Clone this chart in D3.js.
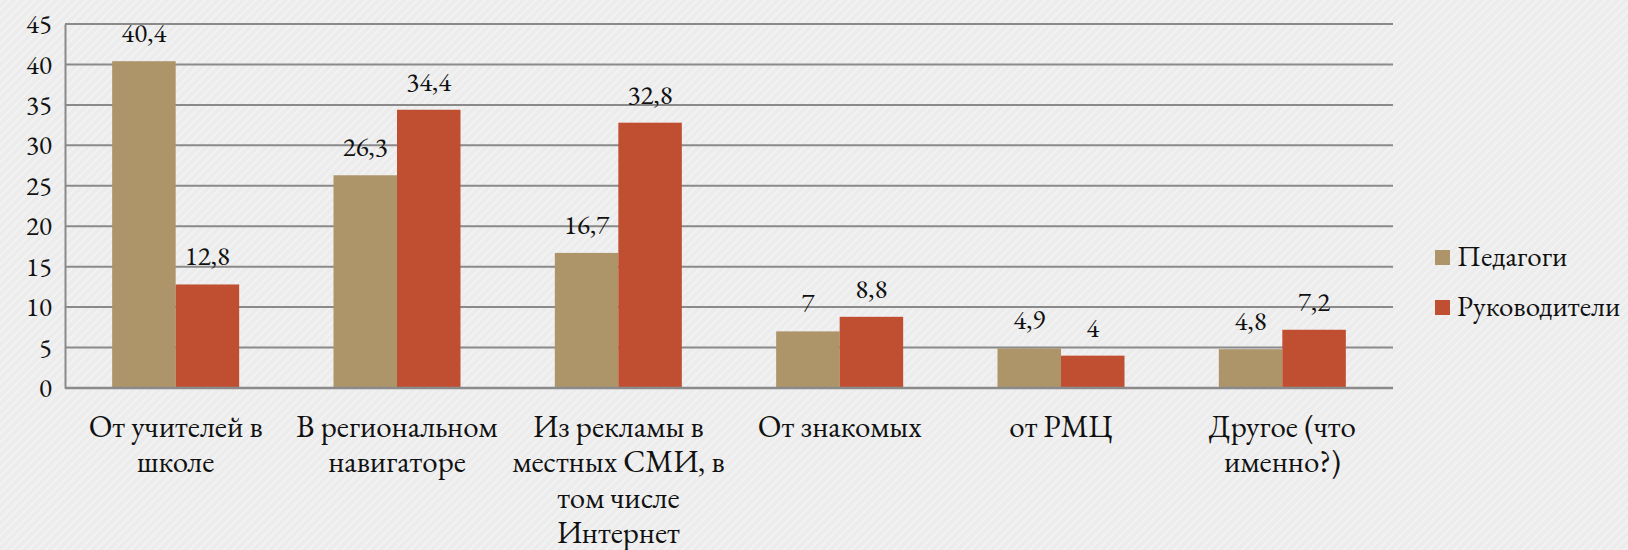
<!DOCTYPE html>
<html>
<head>
<meta charset="utf-8">
<script src="https://cdn.jsdelivr.net/npm/d3@7"></script>
<style>
    body { margin: 0; background: #eeeeee; }
    svg { display: block; }
</style>
</head>
<body>
<div id="chart"></div>
<script>
// Chart data
var categories = [
    ["От учителей в", "школе"],
    ["В региональном", "навигаторе"],
    ["Из рекламы в", "местных СМИ, в", "том числе", "Интернет"],
    ["От знакомых"],
    ["от РМЦ"],
    ["Другое (что", "именно?)"]
];
var seriesNames = ["Педагоги", "Руководители"];
var pedagogi = [40.4, 26.3, 16.7, 7, 4.9, 4.8];
var rukovoditeli = [12.8, 34.4, 32.8, 8.8, 4, 7.2];
var yTicks = [0, 5, 10, 15, 20, 25, 30, 35, 40, 45];
var colors = ["#ad9469", "#c04f32"];

var fontFam = "'EB Garamond', 'Liberation Serif', serif";

// Set up SVG params
var svgHgt = 550;
var svgWdt = 1628;
var margins = { top: 24, right: 235, bottom: 162, left: 65 };
var chtHgt = svgHgt - margins.top - margins.bottom;
var chtWdt = svgWdt - margins.left - margins.right;

var svg = d3.select("#chart").append("svg")
    .attr("width", svgWdt)
    .attr("height", svgHgt)
    .attr("font-family", fontFam);

// Textured background
var defs = svg.append("defs");
var pat = defs.append("pattern")
    .attr("id", "tex")
    .attr("width", 6).attr("height", 6)
    .attr("patternUnits", "userSpaceOnUse")
    .attr("patternTransform", "rotate(-45)");
pat.append("rect").attr("width", 6).attr("height", 6).attr("fill", "#ececec");
pat.append("rect").attr("width", 6).attr("height", 2).attr("fill", "#f2f2f2");
svg.append("rect").attr("width", svgWdt).attr("height", svgHgt).attr("fill", "url(#tex)");

var chtGrp = svg.append("g")
    .attr("transform", `translate(${margins.left}, ${margins.top})`);

// Scales
var x0 = d3.scaleBand().domain(d3.range(categories.length)).range([0, chtWdt]);
var x1 = d3.scaleBand().domain([0, 1]).range([0, 127]);
var y = d3.scaleLinear().domain([0, 45]).range([chtHgt, 0]);

// Gridlines
chtGrp.append("g").selectAll("line").data(yTicks.filter(d => d > 0))
    .enter().append("line")
        .attr("x1", 0).attr("x2", chtWdt)
        .attr("y1", d => y(d)).attr("y2", d => y(d))
        .attr("stroke", "#8a8a8a").attr("stroke-width", 2);

// Y axis
var leftAx = d3.axisLeft(y).tickValues(yTicks).tickSize(0).tickPadding(13);
var yAxis = chtGrp.append("g").call(leftAx)
    .attr("font-family", fontFam).attr("font-size", 27);
yAxis.select(".domain").attr("stroke", "#8a8a8a").attr("stroke-width", 2);
yAxis.selectAll("text").attr("fill", "#111");

// Bars and value labels
var series = [pedagogi, rukovoditeli];
series.forEach((vals, s) => {
    chtGrp.append("g").selectAll("rect").data(vals)
        .enter().append("rect")
            .attr("x", (d, i) => x0(i) + x0.bandwidth() / 2 - 63.5 + x1(s))
            .attr("y", d => y(d))
            .attr("width", x1.bandwidth())
            .attr("height", d => chtHgt - y(d))
            .attr("fill", colors[s]);
    chtGrp.append("g").selectAll("text").data(vals)
        .enter().append("text")
            .attr("x", (d, i) => x0(i) + x0.bandwidth() / 2 - 63.5 + x1(s) + x1.bandwidth() / 2)
            .attr("y", d => y(d) - 19)
            .attr("text-anchor", "middle")
            .attr("font-size", 27)
            .attr("fill", "#111")
            .text(d => String(d).replace(".", ","));
});

// X axis line
chtGrp.append("line")
    .attr("x1", 0).attr("x2", chtWdt)
    .attr("y1", chtHgt).attr("y2", chtHgt)
    .attr("stroke", "#8a8a8a").attr("stroke-width", 2.5);

// Category labels
var catGrp = chtGrp.append("g").selectAll("text").data(categories)
    .enter().append("text")
        .attr("text-anchor", "middle")
        .attr("font-size", 31)
        .attr("fill", "#111")
        .attr("transform", (d, i) => `translate(${x0(i) + x0.bandwidth() / 2}, ${chtHgt + 49})`);
catGrp.selectAll("tspan").data(d => d)
    .enter().append("tspan")
        .attr("x", 0)
        .attr("y", (d, j) => j * 35.3)
        .text(d => d);

// Legend
var lgd = svg.append("g").attr("transform", "translate(1435, 250)");
seriesNames.forEach((name, i) => {
    lgd.append("rect").attr("x", 0).attr("y", i * 50)
        .attr("width", 15).attr("height", 15).attr("fill", colors[i]);
    lgd.append("text").attr("x", 22).attr("y", i * 50 + 16)
        .attr("font-size", 29).attr("fill", "#111").text(name);
});
</script>
</body>
</html>
